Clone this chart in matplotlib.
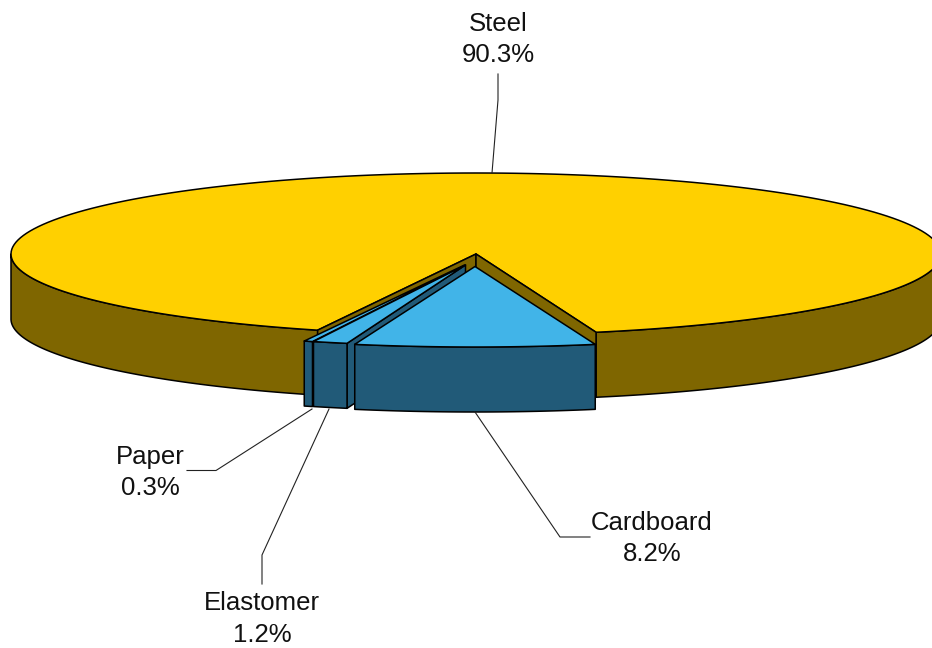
import numpy as np
import matplotlib
matplotlib.use('Agg')
import matplotlib.pyplot as plt
from matplotlib.patches import Polygon

plt.rcParams['font.family'] = ['Liberation Sans', 'DejaVu Sans']

# Pie values (percent), front slice first, going round to the left
labels = ['Cardboard', 'Elastomer', 'Paper', 'Steel']
values = [8.2, 1.2, 0.3, 90.3]

GOLD_TOP = '#FFD000'
GOLD_SIDE = '#7F6600'
BLUE_TOP = '#41B4E8'
BLUE_SIDE = '#215A78'

# pie geometry in pixels
RX, RY = 465, 81
DEPTH = 65
CX, CY = 476, 254
# how far each slice is pulled out of the pie
offsets = {'Cardboard': (0, 12), 'Elastomer': (-10.5, 11), 'Paper': (-11.5, 11), 'Steel': (0, 0)}

fig = plt.figure(figsize=(9.32, 6.48), dpi=100)
ax = fig.add_axes([0, 0, 1, 1])
ax.set_xlim(0, 932)
ax.set_ylim(648, 0)
ax.axis('off')


def arc(cx, cy, t0, t1, rx=RX, ry=RY):
    # t in degrees from straight down, positive to the right
    t = np.radians(np.linspace(t0, t1, 200))
    return np.column_stack([cx + rx * np.sin(t), cy + ry * np.cos(t)])


def poly(pts, color):
    ax.add_patch(Polygon(pts, closed=True, facecolor=color, edgecolor='black',
                         linewidth=1.1, joinstyle='round'))


def outer_wall(cx, cy, t0, t1, color, rx=RX, ry=RY):
    top = arc(cx, cy, t0, t1, rx, ry)
    bottom = top + [0, DEPTH]
    poly(np.vstack([top, bottom[::-1]]), color)


def radial_wall(cx, cy, t, color):
    edge = arc(cx, cy, t, t)[0]
    poly([(cx, cy), edge, edge + [0, DEPTH], (cx, cy + DEPTH)], color)


def top_face(cx, cy, t0, t1, color, rx=RX, ry=RY):
    poly(np.vstack([[(cx, cy)], arc(cx, cy, t0, t1, rx, ry)]), color)


# slice angles worked out from the values
degs = [v * 3.6 for v in values]
card_r = degs[0] / 2
card_l = -card_r
elast_l = card_l - degs[1]
paper_l = elast_l - degs[2]

# steel, its gap sits slightly off the other slices
steel_r = card_r + 0.2
steel_l = paper_l + 0.25
outer_wall(CX, CY, steel_r, 90, GOLD_SIDE)
outer_wall(CX, CY, steel_l, -90, GOLD_SIDE)
top_face(CX, CY, steel_r, 360 + steel_l, GOLD_TOP)
radial_wall(CX, CY, steel_l, GOLD_SIDE)
radial_wall(CX, CY, steel_r, GOLD_SIDE)

# paper
px, py = offsets['Paper']
outer_wall(CX + px, CY + py, paper_l, elast_l, BLUE_SIDE)
top_face(CX + px, CY + py, paper_l, elast_l, BLUE_TOP)

# elastomer
ex, ey = offsets['Elastomer']
radial_wall(CX + ex, CY + ey, card_l, BLUE_SIDE)
outer_wall(CX + ex, CY + ey, elast_l, card_l, BLUE_SIDE)
top_face(CX + ex, CY + ey, elast_l, card_l, BLUE_TOP)

# cardboard
cx, cy = offsets['Cardboard']
outer_wall(CX + cx - 1, CY + cy + 0.5, card_l, card_r, BLUE_SIDE, rx=472, ry=80.5)
top_face(CX + cx - 1, CY + cy + 0.5, card_l, card_r, BLUE_TOP, rx=472, ry=80.5)

# leader lines
leaders = [
    [(492, 173), (498, 100), (498, 74)],
    [(475, 412), (560, 537), (590, 537)],
    [(329, 409), (262, 555), (262, 584)],
    [(312, 409), (216, 470.5), (187, 470.5)],
]
for line in leaders:
    xs, ys = zip(*line)
    ax.plot(xs, ys, color='#222222', linewidth=0.8)

# labels
text_pos = {'Steel': (498, 39.5), 'Cardboard': (652, 538.5), 'Elastomer': (262, 619), 'Paper': (150, 472.5)}
for name, val in zip(labels, values):
    x, y = text_pos[name]
    ax.text(x, y, f'{name}\n{val}%', ha='center', va='center', fontsize=18.5,
            color='#111111', linespacing=1.41)

fig.savefig('out.png', dpi=100)
